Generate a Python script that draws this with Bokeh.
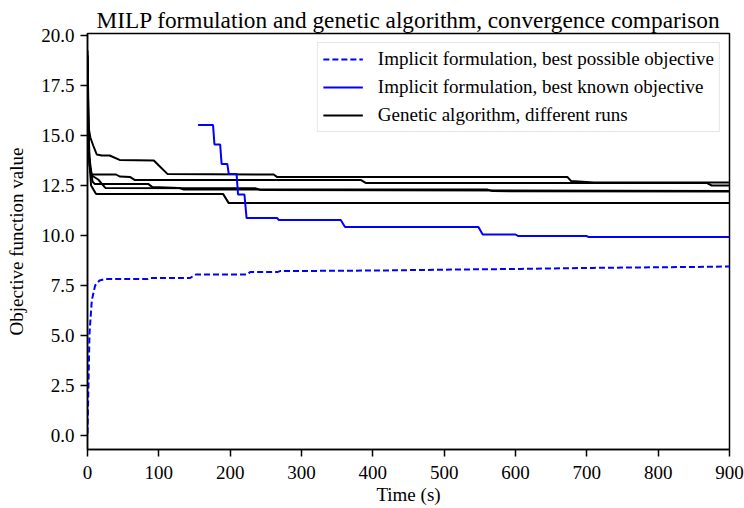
from bokeh.plotting import figure
from bokeh.models import FixedTicker, NumeralTickFormatter, Legend, LegendItem, Range1d
from bokeh.embed import file_html
from bokeh.resources import INLINE

FONT = "Liberation Serif"

title_text = "MILP formulation and genetic algorithm, convergence comparison"
x_label = "Time (s)"
y_label = "Objective function value"
x_ticks = [0, 100, 200, 300, 400, 500, 600, 700, 800, 900]
y_ticks = [0.0, 2.5, 5.0, 7.5, 10.0, 12.5, 15.0, 17.5, 20.0]

label_bound = "Implicit formulation, best possible objective"
label_best = "Implicit formulation, best known objective"
label_ga = "Genetic algorithm, different runs"

# MILP best possible objective (bound)
bound_t = [0, 1.4, 2.8, 6, 10.7, 16.8, 24, 84, 88, 144, 152, 224, 228, 266, 270, 411, 520, 607, 709, 830, 900]
bound_v = [0.1, 2.6, 5.1, 6.75, 7.5, 7.75, 7.82, 7.82, 7.88, 7.88, 8.05, 8.05, 8.17, 8.17, 8.22, 8.25, 8.3, 8.33, 8.38, 8.42, 8.45]

# MILP best known objective (incumbent)
best_t = [155, 176, 178, 186, 188, 196, 198, 209, 211, 220, 223, 266, 268, 355, 361, 548, 554, 600, 604, 700, 702, 900]
best_v = [15.52, 15.52, 14.55, 14.55, 13.58, 13.58, 13.08, 13.08, 12.05, 12.05, 10.87, 10.87, 10.78, 10.78, 10.43, 10.43, 10.05, 10.05, 9.97, 9.97, 9.93, 9.93]

# Genetic algorithm runs
ga1_t = [0, 1, 2, 4, 8, 13, 20, 31, 45, 93, 100, 112, 261, 266, 673, 678, 710, 900]
ga1_v = [19.25, 17.0, 15.3, 14.9, 14.5, 14.05, 14.0, 14.0, 13.78, 13.75, 13.5, 13.08, 13.05, 12.92, 12.92, 12.72, 12.65, 12.65]

ga2_t = [0, 1, 2, 4, 5, 40, 45, 60, 66, 383, 390, 868, 875, 900]
ga2_v = [19.0, 16.0, 14.0, 13.2, 13.05, 13.05, 12.95, 12.92, 12.78, 12.78, 12.63, 12.63, 12.5, 12.5]

ga3_t = [0, 1, 3, 7, 10, 85, 91, 128, 135, 560, 568, 900]
ga3_v = [18.5, 15.5, 13.8, 12.7, 12.58, 12.58, 12.42, 12.38, 12.3, 12.3, 12.22, 12.2]

ga4_t = [0, 1, 3, 6, 15, 25, 235, 242, 900]
ga4_v = [18.0, 15.0, 13.5, 13.0, 12.8, 12.38, 12.36, 12.28, 12.22]

ga5_t = [0, 1, 2, 5, 12, 190, 198, 900]
ga5_v = [19.0, 15.5, 14.0, 12.5, 12.08, 12.08, 11.62, 11.62]

p = figure(width=744, height=508, output_backend="svg", toolbar_location=None,
           x_range=Range1d(0, 900), y_range=Range1d(-0.7, 20.1),
           min_border_left=87, min_border_right=15, min_border_top=33, min_border_bottom=59)

p.title.text = title_text
p.title.align = "center"
p.title.text_font = FONT
p.title.text_font_size = "23.3px"
p.title.text_font_style = "normal"
p.title.text_color = "black"
p.title.standoff = 2

p.grid.visible = False
p.outline_line_color = "black"
p.outline_line_width = 1.5

for ax in (p.xaxis[0], p.yaxis[0]):
    ax.axis_line_color = "black"
    ax.axis_line_width = 1.5
    ax.major_tick_line_color = "black"
    ax.major_tick_line_width = 1.5
    ax.major_tick_out = 7
    ax.major_tick_in = 0
    ax.minor_tick_line_color = None
    ax.major_label_text_font = FONT
    ax.major_label_text_font_size = "19px"
    ax.major_label_text_color = "black"
    ax.axis_label_text_font = FONT
    ax.axis_label_text_font_size = "19px"
    ax.axis_label_text_font_style = "normal"
    ax.axis_label_text_color = "black"

p.xaxis.major_label_standoff = 9
p.xaxis.axis_label_standoff = 2
p.yaxis.major_label_standoff = 6
p.yaxis.axis_label_standoff = 11

p.xaxis.ticker = FixedTicker(ticks=x_ticks)
p.yaxis.ticker = FixedTicker(ticks=y_ticks)
p.yaxis.formatter = NumeralTickFormatter(format="0.0")
p.xaxis.axis_label = x_label
p.yaxis.axis_label = y_label

ga_renderers = []
for t, v in [(ga1_t, ga1_v), (ga2_t, ga2_v), (ga3_t, ga3_v), (ga4_t, ga4_v), (ga5_t, ga5_v)]:
    ga_renderers.append(p.line(t, v, line_color="black", line_width=2))

r_bound = p.line(bound_t, bound_v, line_color="#0000ff", line_width=2, line_dash="6 3")
r_best = p.line(best_t, best_v, line_color="#0000ff", line_width=2)

legend = Legend(items=[
    LegendItem(label=label_bound, renderers=[r_bound]),
    LegendItem(label=label_best, renderers=[r_best]),
    LegendItem(label=label_ga, renderers=[ga_renderers[0]]),
], location="top_right")
legend.label_text_font = FONT
legend.label_text_font_size = "19px"
legend.label_text_color = "black"
legend.glyph_width = 40
legend.label_standoff = 15
legend.padding = 5
legend.spacing = 6
legend.margin = 9
legend.border_line_color = "#cccccc"
legend.border_line_width = 1.5
legend.background_fill_alpha = 0.8
p.add_layout(legend)

open("out.html", "w").write(file_html(p, INLINE))
